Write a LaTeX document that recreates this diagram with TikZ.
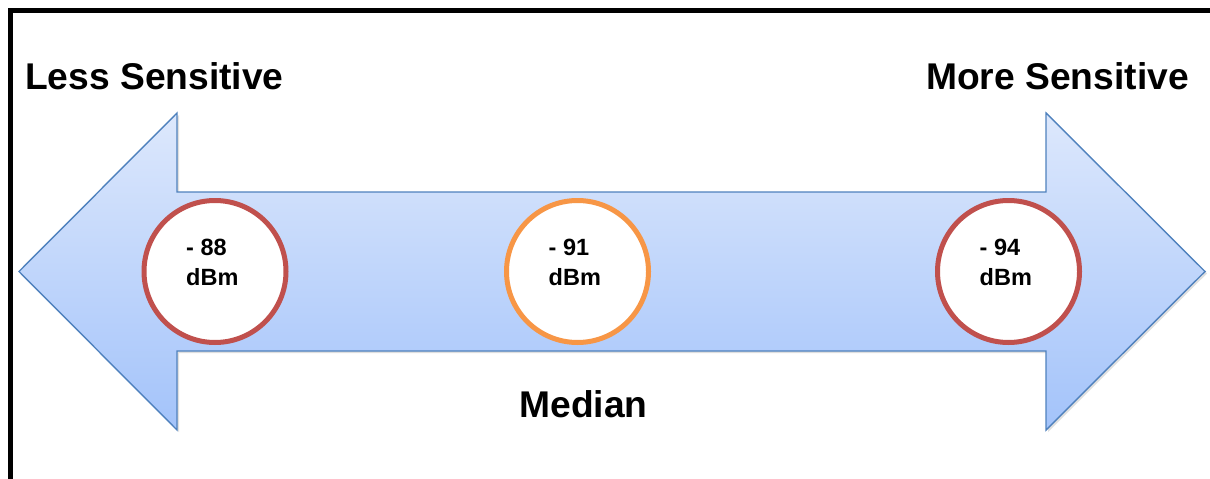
\documentclass[tikz,border=0pt]{standalone}
\usepackage{fontspec}
\setmainfont{Liberation Sans}
\usetikzlibrary{calc,shadows}
\definecolor{ringred}{HTML}{C0504D}
\definecolor{ringorange}{HTML}{F79646}
\definecolor{arrowline}{HTML}{4F81BD}
\definecolor{arrowtop}{HTML}{DDE8FC}
\definecolor{arrowbottom}{HTML}{A3C3FA}
\def\clist{{(215,271.5)/c88/88/ringred}, {(577.5,271.5)/c91/91/ringorange}, {(1008.5,271.5)/c94/94/ringred}}
\tikzstyle{frame} = [draw, black, line width=4.5pt]
\tikzstyle{bigarrow} = [draw=arrowline, line width=1.4pt, line join=miter, top color=arrowtop, bottom color=arrowbottom, drop shadow={opacity=0.25, shadow xshift=2pt, shadow yshift=-2pt}]
\tikzstyle{ring} = [circle, fill=white, line width=5pt, minimum size=142pt, inner sep=0pt]
\tikzstyle{val} = [inner sep=0pt, align=left, font=\bfseries\fontsize{23.5}{30}\selectfont]
\tikzstyle{heading} = [inner sep=0pt, font=\bfseries\fontsize{37.2}{40}\selectfont]

\begin{document}
\begin{tikzpicture}[x=1pt, y=-1pt]
  \useasboundingbox (0,0) rectangle (1210,479);
  \clip (0,0) rectangle (1210,479);
  \draw[frame] (10.3,10.3) rectangle (1240,520);

  \path[bigarrow] (19,271.5) -- (177,113) -- (177,192) -- (1046,192) -- (1046,113)
    -- (1205,271.5) -- (1046,430) -- (1046,351) -- (177,351) -- (177,430) -- cycle;

  \foreach \pos/\name/\val/\col in \clist {
    \node[ring, draw=\col] (\name) at \pos {};
    \node[val, anchor=north west] (\name-txt) at ($(\name.center)+(-29,-33)$) {- \val\\dBm};
  }

  \node[heading, anchor=base west] (less) at (25,89) {Less Sensitive};
  \node[heading, anchor=base east] (more) at (1189,89) {More Sensitive};
  \node[heading, anchor=base] (median) at (583.5,417) {Median};
\end{tikzpicture}
\end{document}
